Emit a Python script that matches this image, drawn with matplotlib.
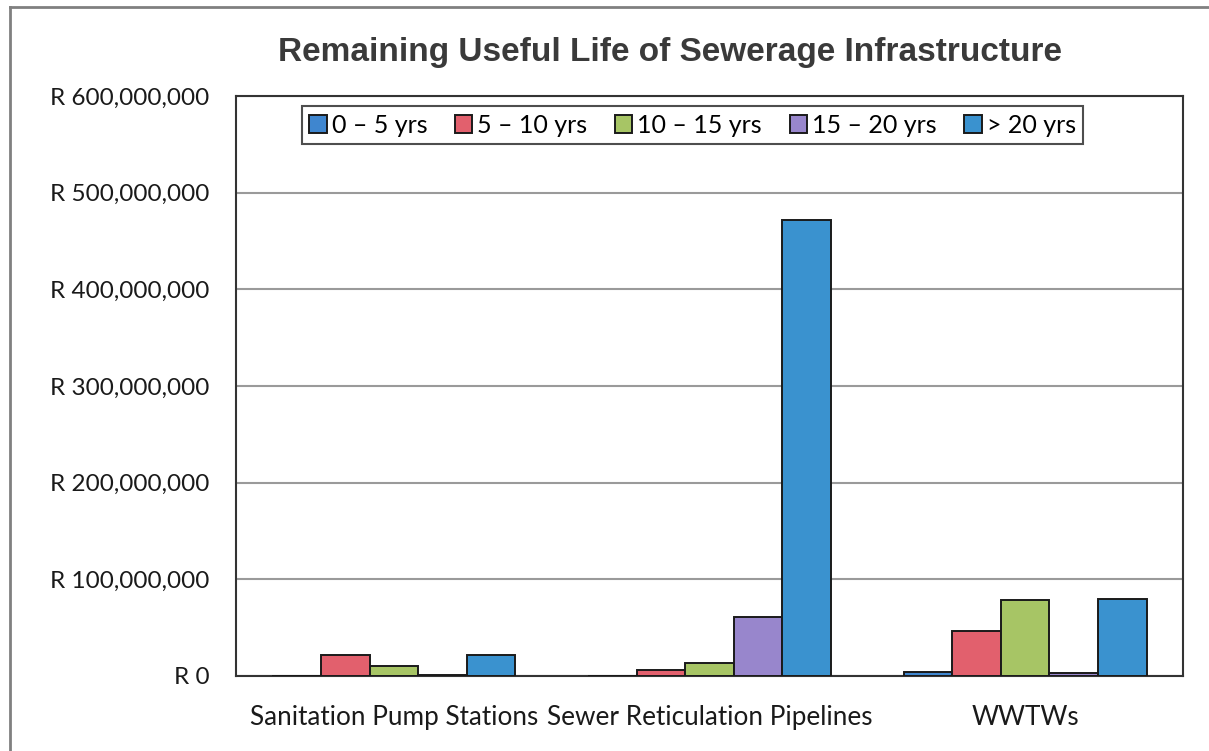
import matplotlib
matplotlib.use("Agg")
import matplotlib.pyplot as plt
import numpy as np
from matplotlib.lines import Line2D
from matplotlib.ticker import FuncFormatter

# Asset categories and replacement value (Rand) by remaining useful life band
categories = ["Sanitation Pump Stations", "Sewer Reticulation Pipelines", "WWTWs"]
bands = ["0 \u2013 5 yrs", "5 \u2013 10 yrs", "10 \u2013 15 yrs", "15 \u2013 20 yrs", "> 20 yrs"]
life_0_5 = [0, 0, 4_500_000]
life_5_10 = [21_500_000, 6_500_000, 47_000_000]
life_10_15 = [10_000_000, 13_500_000, 79_000_000]
life_15_20 = [800_000, 61_000_000, 3_500_000]
life_20_plus = [21_500_000, 472_000_000, 80_000_000]
series = [life_0_5, life_5_10, life_10_15, life_15_20, life_20_plus]
colors = ["#3f86cf", "#e2606d", "#a7c565", "#9886cc", "#3a92cf"]
y_ticks = [0, 100_000_000, 200_000_000, 300_000_000, 400_000_000, 500_000_000, 600_000_000]

body_font = "Lato"

fig = plt.figure(figsize=(12.09, 7.51), dpi=100)
ax = fig.add_axes([236 / 1209, 1 - 676 / 751, (1183 - 236) / 1209, (676 - 96) / 751])

x = np.arange(len(categories))
n = len(series)
bar_w = 1 / (n + 1.5)
for i, (vals, col, lab) in enumerate(zip(series, colors, bands)):
    offs = (i - (n - 1) / 2) * bar_w
    ax.bar(x + offs, vals, width=bar_w, color=col, edgecolor="#1a1a1a",
           linewidth=1.4, label=lab, zorder=3)

ax.set_xlim(-0.5, len(categories) - 0.5)
ax.set_ylim(0, 600_000_000)
ax.set_yticks(y_ticks)
ax.yaxis.set_major_formatter(FuncFormatter(lambda v, p: "R {:,.0f}".format(v)))
ax.set_xticks(x)
ax.set_xticklabels(categories)
ax.tick_params(axis="y", length=0, pad=19, labelsize=17.5, labelcolor="#1a1a1a")
ax.tick_params(axis="x", length=0, pad=21, labelsize=18.8, labelcolor="#1a1a1a")
for lab in ax.get_xticklabels() + ax.get_yticklabels():
    lab.set_fontfamily(body_font)

ax.grid(axis="y", color="#9a9a9a", linewidth=1.5, zorder=0)
for s in ax.spines.values():
    s.set_color("#333333")
    s.set_linewidth(1.5)

leg = ax.legend(loc="upper center", bbox_to_anchor=(0.482, 0.982), ncol=5,
                frameon=True, fancybox=False, edgecolor="#222222",
                handlelength=0.7, handleheight=0.7, handletextpad=0.2,
                columnspacing=1.1, borderpad=0.3, borderaxespad=0,
                prop={"family": body_font, "size": 18})
leg.get_frame().set_linewidth(1.5)

fig.text(670 / 1209, 1 - 52 / 751, "Remaining Useful Life of Sewerage Infrastructure",
         ha="center", va="center", fontsize=24, fontweight="bold",
         family="Liberation Sans", color="#3a3a3a")

# chart frame
fig.add_artist(Line2D([9.5 / 1209, 9.5 / 1209], [0, 1 - 7 / 751],
                      transform=fig.transFigure, color="#808080", linewidth=2))
fig.add_artist(Line2D([9.5 / 1209, 1], [1 - 7 / 751, 1 - 7 / 751],
                      transform=fig.transFigure, color="#808080", linewidth=2))

fig.savefig("out.png", dpi=100)
